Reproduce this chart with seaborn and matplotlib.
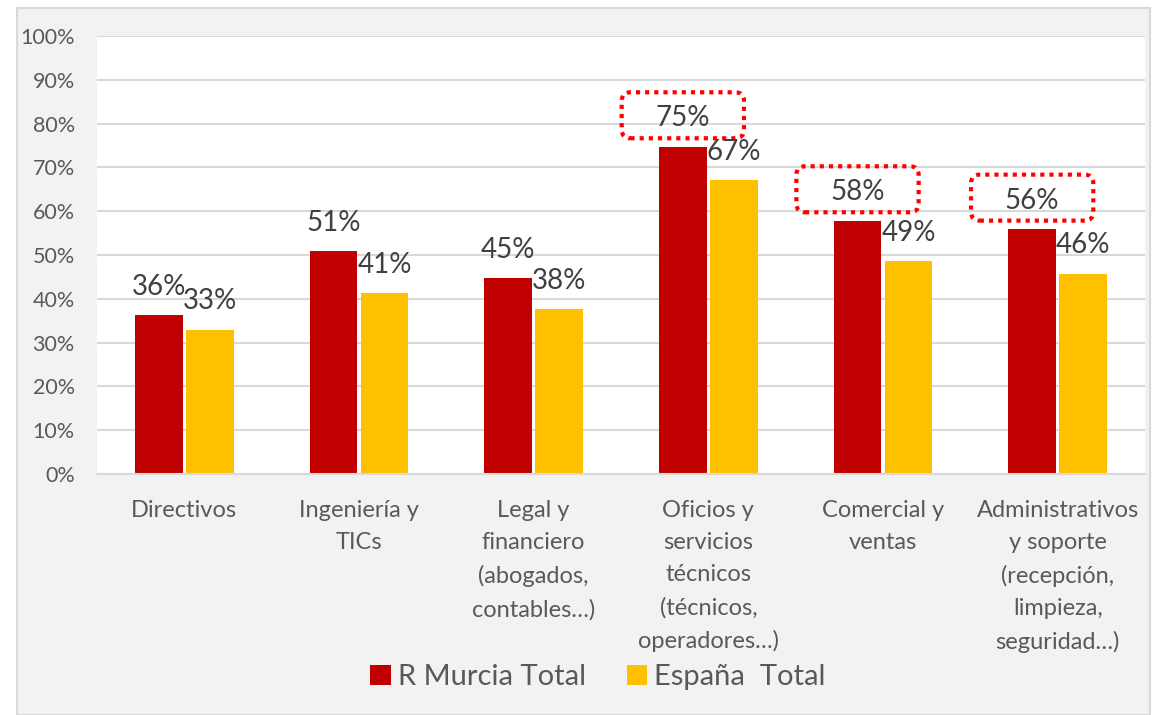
import pandas as pd
import matplotlib.pyplot as plt
import seaborn as sns
from matplotlib.patches import FancyBboxPatch, Rectangle, Patch

# Datos
categorias = ["Directivos", "Ingeniería y\nTICs",
              "Legal y\nfinanciero\n(abogados,\ncontables…)",
              "Oficios y\nservicios\ntécnicos\n(técnicos,\noperadores…)",
              "Comercial y\nventas",
              "Administrativos\ny soporte\n(recepción,\nlimpieza,\nseguridad…)"]
murcia = [0.363, 0.509, 0.447, 0.747, 0.578, 0.559]
espana = [0.329, 0.413, 0.376, 0.671, 0.486, 0.457]
series = ["R Murcia Total", "España  Total"]
colores = ["#c00000", "#ffc000"]
destacados = [3, 4, 5]  # categorías con recuadro rojo

df = pd.DataFrame({
    "categoria": categorias * 2,
    "serie": [series[0]] * 6 + [series[1]] * 6,
    "valor": murcia + espana,
})

sns.set_theme(style="white")
plt.rcParams["font.family"] = ["Lato", "DejaVu Sans"]

fig = plt.figure(figsize=(11.53, 7.15), dpi=100, facecolor="white")
fig.patches.append(Rectangle((17 / 1153, 0), 1133 / 1153, 707 / 715,
                             transform=fig.transFigure, facecolor="#f2f2f2",
                             edgecolor="#d9d9d9", linewidth=1.5, zorder=-1))
ax = fig.add_axes([97 / 1153, 241 / 715, 1048 / 1153, 438 / 715])

sns.barplot(data=df, x="categoria", y="valor", hue="serie", palette=colores,
            saturation=1, width=0.584, gap=0.06, linewidth=0, ax=ax, legend=False)

ax.set_ylim(0, 1)
ax.set_xlim(-0.5, 5.5)
ax.set_yticks([i / 10 for i in range(11)])
ax.set_yticklabels([f"{i * 10}%" for i in range(11)], color="#595959", fontsize=15.5)
ax.set_xticklabels(categorias, color="#595959", fontsize=17, linespacing=1.65)
ax.tick_params(axis="x", pad=19, length=0)
ax.tick_params(axis="y", pad=16, length=0)
ax.grid(axis="y", color="#d9d9d9", linewidth=1.5)
ax.set_axisbelow(True)
for s in ["top", "right", "left"]:
    ax.spines[s].set_visible(False)
ax.spines["bottom"].set_color("#d9d9d9")
ax.spines["bottom"].set_linewidth(1.5)
ax.set_xlabel("")
ax.set_ylabel("")

# Etiquetas de valor
off = 0.584 / 4
for i in range(6):
    for dx, v in [(-off, murcia[i]), (off, espana[i])]:
        ax.text(i + dx, v + 0.065, f"{v:.0%}", ha="center", va="center",
                fontsize=20, color="#404040")

# Recuadros punteados
fig.canvas.draw()
bb = ax.get_window_extent()
aspect = (1 / bb.height) / (6 / bb.width)
for i in destacados:
    w, h = 0.7, 0.105
    cx, cy = i - off, murcia[i] + 0.072
    box = FancyBboxPatch((cx - w / 2, cy - h / 2), w, h,
                         boxstyle="round,pad=0,rounding_size=0.05",
                         mutation_aspect=aspect, fill=False,
                         edgecolor="#ff0000", linestyle=(0, (1, 1.2)),
                         linewidth=3, clip_on=False)
    ax.add_patch(box)

handles = [Patch(facecolor=c, edgecolor="none") for c in colores]
fig.legend(handles, series, loc="center", bbox_to_anchor=(598 / 1153, 38 / 715),
           ncol=2, frameon=False, fontsize=21, labelcolor="#595959",
           handlelength=0.7, handleheight=0.7, handletextpad=0.25,
           columnspacing=1.4)

plt.savefig("out.png", dpi=100, facecolor=fig.get_facecolor())
